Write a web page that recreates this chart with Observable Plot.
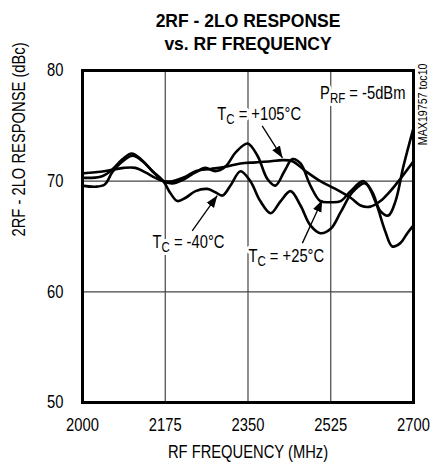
<!DOCTYPE html>
<html>
<head>
<meta charset="utf-8">
<script src="https://cdn.jsdelivr.net/npm/d3@7"></script>
<script src="https://cdn.jsdelivr.net/npm/@observablehq/plot@0.6"></script>
<style>
  html, body { margin: 0; padding: 0; background: white; }
  svg { display: block; }
</style>
</head>
<body>
<div id="chart"></div>
<script>
// ---- data ----
const titleLines = ["2RF - 2LO RESPONSE", "vs. RF FREQUENCY"];
const xLabel = "RF FREQUENCY (MHz)";
const yLabel = "2RF - 2LO RESPONSE (dBc)";
const xTicks = [2000, 2175, 2350, 2525, 2700];
const yTicks = [50, 60, 70, 80];
const xGrid = [2175, 2350, 2525];
const yGrid = [60, 70];

const freqP25 = [2000,2038,2059,2085,2104,2123,2148,2171,2190,2211,2239,2260,2281,2302,2324,2349,2370,2391,2408,2427,2444,2461,2482,2503,2525,2546,2567,2594,2613,2630,2647,2662,2679,2700];
const valP25  = [70.3,70.4,70.9,72.0,72.5,72.0,70.9,70.0,69.8,70.1,70.8,71.2,70.9,71.3,72.6,73.4,72.3,70.2,69.6,70.9,72.0,71.6,69.6,68.2,68.1,68.2,69.1,70.0,69.0,67.3,66.9,68.2,71.4,74.8];

const freqP105 = [2000,2027,2059,2087,2112,2133,2154,2171,2190,2218,2239,2271,2302,2334,2366,2398,2423,2444,2472,2503,2535,2567,2588,2609,2630,2651,2672,2700];
const valP105  = [70.7,70.8,71.0,71.2,71.2,70.8,70.3,70.0,70.0,70.4,70.9,71.1,71.3,71.6,71.7,71.8,71.9,71.8,70.9,70.0,69.3,68.5,67.8,67.7,68.2,69.1,70.2,71.8];

const freqM40 = [2000,2027,2047,2063,2085,2106,2127,2148,2171,2186,2201,2218,2239,2264,2281,2296,2313,2334,2355,2376,2398,2419,2440,2461,2482,2503,2525,2546,2571,2598,2619,2640,2655,2672,2687,2700];
const valM40  = [69.6,69.5,69.7,70.8,71.8,72.3,71.8,70.9,70.0,68.9,68.2,68.5,69.1,69.3,69.0,68.7,69.6,70.9,70.0,68.2,67.1,68.2,69.1,67.8,66.0,65.3,65.7,67.2,69.0,69.8,68.2,65.5,64.1,64.4,65.3,66.0];

const seriesNames = ["+25", "+105", "-40"];
const labelP = "P_RF = -5dBm";
const labelHot = "T_C = +105°C";
const labelCold = "T_C = -40°C";
const labelRoom = "T_C = +25°C";
const sideNote = "MAX19757 toc10";

// ---- build tables ----
const rows = [
  ...freqP25.map((f, i) => ({series: seriesNames[0], f, v: valP25[i]})),
  ...freqP105.map((f, i) => ({series: seriesNames[1], f, v: valP105[i]})),
  ...freqM40.map((f, i) => ({series: seriesNames[2], f, v: valM40[i]}))
];

const labelsStart = [
  {text: labelHot, f: 2285, v: 75.5},
  {text: labelCold, f: 2148, v: 64.0},
  {text: labelRoom, f: 2351, v: 62.66}
];
const labelsEnd = [
  {text: labelP, f: 2683, v: 77.45}
];
const arrows = [
  {f1: 2380, v1: 75.0, f2: 2423, v2: 72.1},
  {f1: 2232, v1: 65.5, f2: 2285, v2: 68.7},
  {f1: 2465, v1: 64.4, f2: 2507, v2: 68.3}
];

const sans = "'Liberation Sans Narrow', 'Arial Narrow', 'Liberation Sans', Arial, sans-serif";
const halo = {fill: "black", stroke: "white", strokeWidth: 6, paintOrder: "stroke", fontSize: 18, lineAnchor: "bottom"};

const chart = Plot.plot({
  width: 432,
  height: 464,
  marginLeft: 82,
  marginRight: 19,
  marginTop: 70,
  marginBottom: 62,
  style: {fontFamily: sans, fontSize: "18px", color: "black", background: "white"},
  x: {domain: [2000, 2700], label: null},
  y: {domain: [50, 80], label: null},
  marks: [
    Plot.ruleX(xGrid, {stroke: "#444", strokeWidth: 1.2}),
    Plot.ruleY(yGrid, {stroke: "#444", strokeWidth: 1.2}),
    Plot.axisX(xTicks, {tickSize: 0, tickPadding: 16, tickFormat: d => String(d), label: null, fontSize: 18}),
    Plot.axisY(yTicks, {tickSize: 0, tickPadding: 19, tickFormat: d => String(d), label: null, fontSize: 18}),
    Plot.text(labelsStart, {x: "f", y: "v", text: "text", textAnchor: "start", ...halo}),
    Plot.text(labelsEnd, {x: "f", y: "v", text: "text", textAnchor: "end", ...halo}),
    Plot.line(rows, {x: "f", y: "v", z: "series", stroke: "black", strokeWidth: 2.6, curve: "catmull-rom"}),
    Plot.link(arrows, {x1: "f1", y1: "v1", x2: "f2", y2: "v2", stroke: "black", strokeWidth: 1.3}),
    Plot.frame({stroke: "black", strokeWidth: 3}),
    Plot.text([titleLines[0]], {text: d => d, frameAnchor: "top", dy: -44, lineAnchor: "bottom",
      fontFamily: "'Liberation Sans', Arial, sans-serif", fontWeight: "bold", fontSize: 17.5}),
    Plot.text([titleLines[1]], {text: d => d, frameAnchor: "top", dy: -21, lineAnchor: "bottom",
      fontFamily: "'Liberation Sans', Arial, sans-serif", fontWeight: "bold", fontSize: 17.5}),
    Plot.text([xLabel], {text: d => d, frameAnchor: "bottom", dy: 55, lineAnchor: "bottom", fontSize: 18}),
    Plot.text([yLabel], {text: d => d, frameAnchor: "left", dx: -63.5, rotate: -90, lineAnchor: "middle", fontSize: 18}),
    Plot.text([sideNote], {text: d => d, frameAnchor: "top-right", dx: 9, dy: -7, rotate: -90,
      textAnchor: "end", lineAnchor: "middle", fontSize: 13})
  ]
});

const svgNode = chart.tagName.toLowerCase() === "svg" ? chart : chart.querySelector("svg");
const svg = d3.select(svgNode);

// filled arrowheads
const defs = svg.insert("defs", ":first-child");
defs.append("marker")
  .attr("id", "ahead")
  .attr("viewBox", "-12 -6 14 12")
  .attr("refX", 0).attr("refY", 0)
  .attr("markerWidth", 14).attr("markerHeight", 12)
  .attr("markerUnits", "userSpaceOnUse")
  .attr("orient", "auto")
  .append("path")
  .attr("d", "M-12,-4.5L0,0L-12,4.5Z")
  .attr("fill", "black");
svg.selectAll("g[aria-label='link'] path").attr("marker-end", "url(#ahead)");

// subscripts (T_C, P_RF)
svg.selectAll("text").each(function() {
  const s = this.textContent;
  const m = s.match(/^(\w)_([A-Z]+)(.*)$/);
  if (!m) return;
  const el = d3.select(this);
  el.text(null);
  el.append("tspan").text(m[1]);
  el.append("tspan").attr("dy", 4).attr("font-size", "14px").text(m[2]);
  el.append("tspan").attr("dy", -4).text(m[3]);
});

// narrow lettering: the reference uses a condensed face; compress the regular face horizontally
svg.selectAll("text").each(function() {
  if (this.closest("[font-weight='bold']")) return;
  let x = parseFloat(this.getAttribute("x"));
  if (!isFinite(x)) x = 0;
  const t = this.getAttribute("transform") || "";
  this.setAttribute("transform", `${t} translate(${x},0) scale(0.82,1) translate(${-x},0)`.trim());
});

document.getElementById("chart").appendChild(chart);
</script>
</body>
</html>
